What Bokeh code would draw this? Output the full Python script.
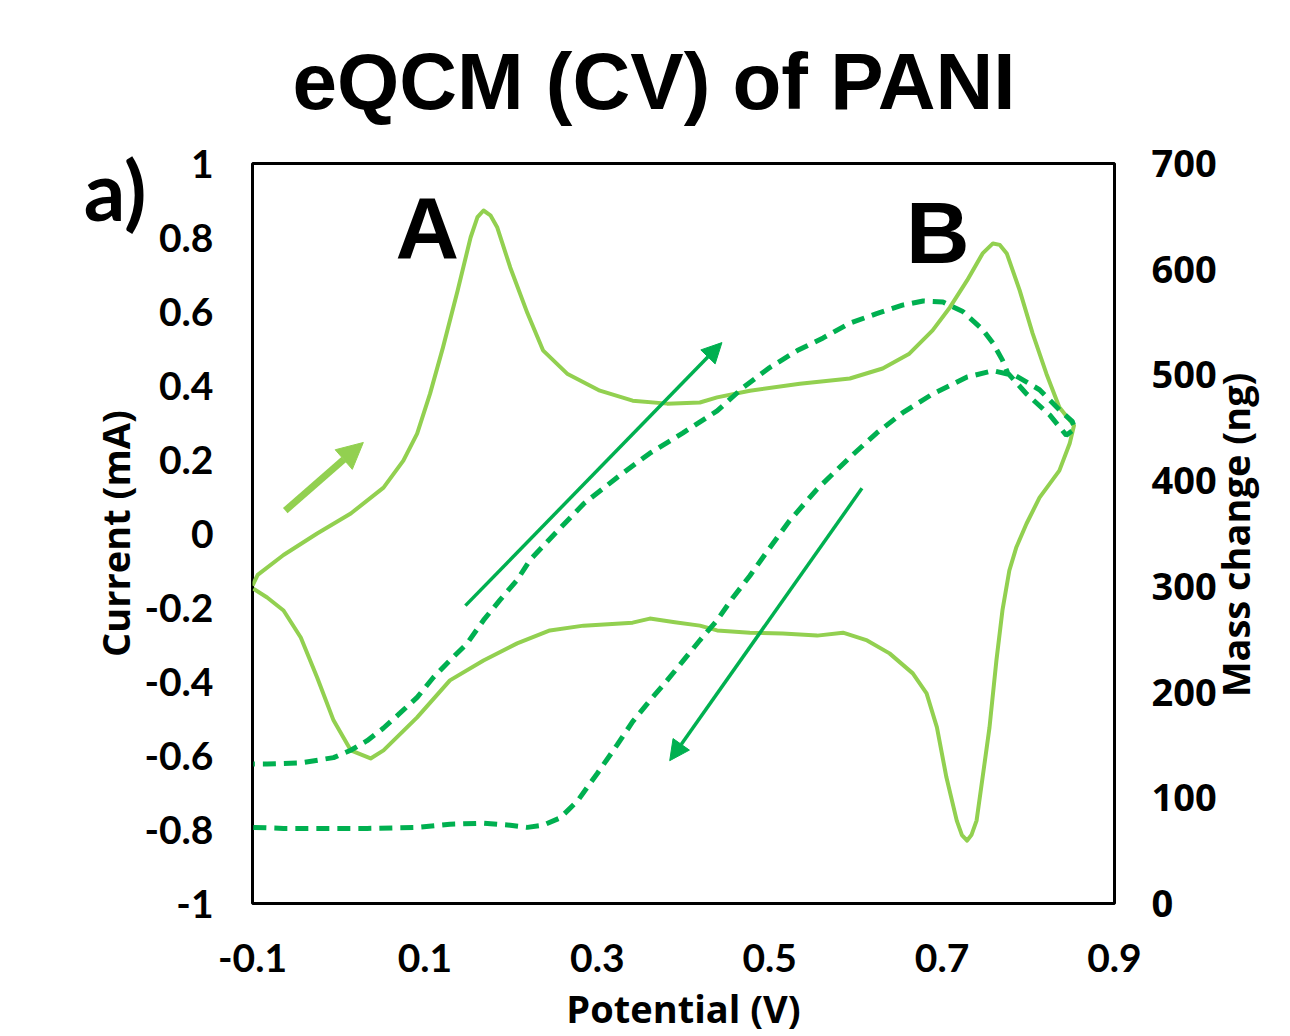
import math
from bokeh.plotting import figure
from bokeh.models import (Range1d, LinearAxis, FixedTicker, Label, Arrow, NormalHead, Title)
from bokeh.embed import file_html
from bokeh.resources import INLINE

# ---------------- data ----------------
cv_potential = [-0.100, -0.094, -0.064, -0.025, 0.014, 0.052, 0.075, 0.091, 0.106, 0.121,
                0.138, 0.153, 0.161, 0.168, 0.176, 0.184, 0.199, 0.219, 0.237, 0.265,
                0.303, 0.341, 0.381, 0.419, 0.439, 0.477, 0.535, 0.593, 0.631, 0.662,
                0.689, 0.709, 0.729, 0.747, 0.759, 0.767, 0.775, 0.790, 0.805, 0.821,
                0.836, 0.853,
                0.848, 0.836, 0.813, 0.798, 0.786, 0.778, 0.770, 0.763, 0.755, 0.747,
                0.740, 0.734, 0.729, 0.723, 0.717, 0.705, 0.694, 0.682, 0.666, 0.639,
                0.613, 0.585, 0.555, 0.515, 0.477, 0.439, 0.419, 0.390, 0.361, 0.341,
                0.284, 0.245, 0.207, 0.168, 0.129, 0.091, 0.052, 0.037, 0.014, -0.006,
                -0.025, -0.044, -0.064, -0.083, -0.099]
cv_current = [-0.141, -0.112, -0.058, 0.000, 0.054, 0.124, 0.197, 0.270, 0.378, 0.503,
              0.657, 0.800, 0.855, 0.873, 0.860, 0.827, 0.719, 0.595, 0.495, 0.432,
              0.386, 0.359, 0.351, 0.354, 0.368, 0.386, 0.405, 0.419, 0.446, 0.486,
              0.549, 0.611, 0.684, 0.757, 0.784, 0.780, 0.757, 0.657, 0.541, 0.432,
              0.341, 0.292,
              0.243, 0.170, 0.097, 0.027, -0.038, -0.100, -0.208, -0.343, -0.524, -0.659,
              -0.776, -0.815, -0.830, -0.815, -0.776, -0.659, -0.524, -0.432, -0.378, -0.324,
              -0.289, -0.268, -0.276, -0.270, -0.268, -0.262, -0.249, -0.240, -0.230, -0.241,
              -0.249, -0.262, -0.297, -0.343, -0.397, -0.497, -0.586, -0.608, -0.586, -0.505,
              -0.389, -0.281, -0.208, -0.173, -0.149]

mass_potential = [-0.099, -0.064, -0.025, 0.033, 0.091, 0.129, 0.168, 0.199, 0.219, 0.237,
                  0.257, 0.277, 0.300, 0.323, 0.341, 0.361, 0.381, 0.399, 0.419, 0.439,
                  0.457, 0.477, 0.497, 0.523, 0.555, 0.593, 0.624, 0.654, 0.689, 0.729,
                  0.759, 0.786, 0.813, 0.836, 0.851, 0.854,
                  0.844, 0.825, 0.798, 0.776, 0.770, 0.759, 0.747, 0.724, 0.701, 0.678,
                  0.654, 0.624, 0.593, 0.562, 0.532, 0.500, 0.469, 0.439, 0.399, 0.361,
                  0.323, 0.284, 0.251, 0.222, 0.207, 0.187, 0.168, 0.149, 0.129, 0.110,
                  0.091, 0.071, 0.052, 0.033, 0.014, -0.006, -0.044, -0.083, -0.099]
mass_ng = [72, 71, 71, 71, 72, 75, 76, 74, 72, 74,
           81, 97, 123, 150, 172, 192, 211, 229, 249, 268,
           289, 310, 333, 362, 392, 422, 445, 464, 482, 498,
           504, 499, 486, 467, 456, 449,
           443, 462, 482, 502, 514, 530, 543, 560, 569, 570,
           566, 558, 549, 535, 523, 507, 488, 466, 445, 426,
           403, 378, 350, 325, 306, 287, 268, 246, 230, 214,
           195, 180, 166, 154, 145, 138, 133, 132, 132]

x_ticks = [-0.1, 0.1, 0.3, 0.5, 0.7, 0.9]
x_tick_labels = ["-0.1", "0.1", "0.3", "0.5", "0.7", "0.9"]
current_ticks = [-1, -0.8, -0.6, -0.4, -0.2, 0, 0.2, 0.4, 0.6, 0.8, 1]
current_tick_labels = ["-1", "-0.8", "-0.6", "-0.4", "-0.2", "0", "0.2", "0.4", "0.6", "0.8", "1"]
mass_ticks = [0, 100, 200, 300, 400, 500, 600, 700]
mass_tick_labels = ["0", "100", "200", "300", "400", "500", "600", "700"]
panel_tag_pos = [0.93]
panel_tag_text = ["a)"]
mass_title_pos = [195]
mass_title_text = ["Mass change (ng)"]

CV_COLOR = "#92D050"
MASS_COLOR = "#00B050"

# ---------------- figure ----------------
p = figure(width=1290, height=1036, output_backend="svg", toolbar_location=None,
           x_range=Range1d(-0.1, 0.9), y_range=Range1d(-1, 1),
           min_border_left=252, min_border_right=175, min_border_top=163,
           min_border_bottom=133, x_axis_location=None, y_axis_location=None)
p.extra_y_ranges = {"mass": Range1d(0, 700)}
p.xgrid.visible = False
p.ygrid.visible = False
p.outline_line_color = "black"
p.outline_line_width = 3
p.background_fill_color = "white"
p.border_fill_color = "white"

def style_axis(ax, font, size, standoff, label, label_standoff):
    ax.axis_line_color = None
    ax.major_tick_line_color = None
    ax.minor_tick_line_color = None
    ax.major_tick_out = 0
    ax.major_tick_in = 0
    ax.major_label_text_font = font
    ax.major_label_text_font_style = "bold"
    ax.major_label_text_font_size = size
    ax.major_label_text_color = "black"
    ax.major_label_standoff = standoff
    ax.axis_label = label
    ax.axis_label_text_font = "Open Sans"
    ax.axis_label_text_font_style = "bold"
    ax.axis_label_text_font_size = "38px"
    ax.axis_label_text_color = "black"
    ax.axis_label_standoff = label_standoff

xaxis = LinearAxis(ticker=FixedTicker(ticks=x_ticks),
                   major_label_overrides=dict(zip(x_ticks, x_tick_labels)))
style_axis(xaxis, "Lato", "39px", 40, "Potential (V)", 7)
p.add_layout(xaxis, "below")

laxis = LinearAxis(ticker=FixedTicker(ticks=current_ticks),
                   major_label_overrides=dict(zip(current_ticks, current_tick_labels)))
style_axis(laxis, "Lato", "39px", 39, "Current (mA)", 0)
p.add_layout(laxis, "left")

# outer left axis that only carries the panel tag "a)"
tag_axis = LinearAxis(ticker=FixedTicker(ticks=panel_tag_pos),
                      major_label_overrides=dict(zip(panel_tag_pos, panel_tag_text)))
style_axis(tag_axis, "Lato", "82px", -60, None, 0)
p.add_layout(tag_axis, "left")

raxis = LinearAxis(y_range_name="mass", ticker=FixedTicker(ticks=mass_ticks),
                   major_label_overrides=dict(zip(mass_ticks, mass_tick_labels)))
style_axis(raxis, "Open Sans", "38px", 37, None, 0)
p.add_layout(raxis, "right")

# outer right axis carrying the right-hand title, reading bottom to top
mass_title_axis = LinearAxis(y_range_name="mass", ticker=FixedTicker(ticks=mass_title_pos),
                             major_label_overrides=dict(zip(mass_title_pos, mass_title_text)))
style_axis(mass_title_axis, "Open Sans", "38px", 16, None, 0)
mass_title_axis.major_label_orientation = math.pi / 2
p.add_layout(mass_title_axis, "right")

# ---------------- curves ----------------
p.line(cv_potential, cv_current, line_color=CV_COLOR, line_width=4, line_join="round")
p.line(mass_potential, mass_ng, y_range_name="mass", line_color=MASS_COLOR,
       line_width=5, line_dash="13 8")

# arrows
p.add_layout(Arrow(x_start=-0.062, y_start=0.062, x_end=0.0286, y_end=0.246,
                   line_color=CV_COLOR, line_width=7,
                   end=NormalHead(size=26, fill_color=CV_COLOR, line_color=CV_COLOR)))
p.add_layout(Arrow(x_start=0.147, y_start=-0.195, x_end=0.4446, y_end=0.516,
                   line_color=MASS_COLOR, line_width=3.5,
                   end=NormalHead(size=20, fill_color=MASS_COLOR, line_color=MASS_COLOR)))
p.add_layout(Arrow(x_start=0.607, y_start=0.122, x_end=0.384, y_end=-0.614,
                   line_color=MASS_COLOR, line_width=3.5,
                   end=NormalHead(size=20, fill_color=MASS_COLOR, line_color=MASS_COLOR)))

# ---------------- texts ----------------
for txt, xx, yy in (("A", 0.1028, 0.827), ("B", 0.6949, 0.813)):
    p.add_layout(Label(x=xx, y=yy, text=txt, text_font="Liberation Sans",
                       text_font_size="88px", text_font_style="bold",
                       text_align="center", text_baseline="alphabetic", text_color="black"))

title = Title(text="eQCM (CV) of PANI", align="left", vertical_align="top",
              standoff=72, offset=40, text_font="Liberation Sans",
              text_font_size="80px", text_font_style="bold", text_color="black")
p.add_layout(title, "above")

open("out.html", "w").write(file_html(p, INLINE))
